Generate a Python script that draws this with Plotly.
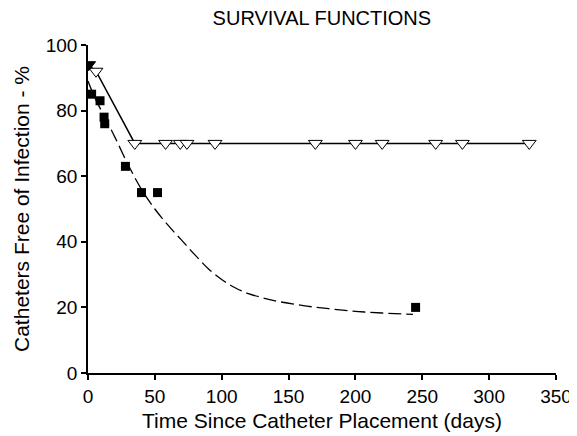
import plotly.graph_objects as go

# Open triangles (Kaplan-Meier, group 1)
tri_days = [6, 35, 58, 69, 74, 95, 170, 200, 220, 260, 280, 330]
tri_vals = [92, 70, 70, 70, 70, 70, 70, 70, 70, 70, 70, 70]

# Step line through triangles
line_days = [0, 6, 35, 330]
line_vals = [94, 92, 70, 70]

# Filled triangle at start
start_day = [0.5]
start_val = [94]

# Filled squares (group 2)
sq_days = [2.7, 9, 12, 12.5, 28, 40, 52, 245]
sq_vals = [85, 83, 78, 76, 63, 55, 55, 20]

# Dashed fitted curve
curve_days = [0, 5, 10, 15, 20, 30, 40, 50, 60, 70, 80, 90, 100, 110, 120, 130, 140, 160, 180, 200, 220, 243]
curve_vals = [89, 84, 80, 76, 72, 63.5, 56, 50, 45, 40.5, 36, 31.8, 28.5, 26, 24.2, 23, 22, 20.6, 19.6, 18.8, 18.3, 17.9]

fig = go.Figure()
fig.add_trace(go.Scatter(x=curve_days, y=curve_vals, mode="lines",
                         line=dict(color="black", width=1.3, dash="13px,5px"),
                         line_shape="spline", hoverinfo="skip"))
fig.add_trace(go.Scatter(x=line_days, y=line_vals, mode="lines",
                         line=dict(color="black", width=1.5)))
fig.add_trace(go.Scatter(x=tri_days, y=tri_vals, mode="markers",
                         marker=dict(symbol="triangle-down", size=12, color="white",
                                     line=dict(color="black", width=1))))
fig.add_trace(go.Scatter(x=start_day, y=start_val, mode="markers",
                         marker=dict(symbol="triangle-down", size=12, color="black",
                                     line=dict(color="black", width=1))))
fig.add_trace(go.Scatter(x=sq_days, y=sq_vals, mode="markers",
                         marker=dict(symbol="square", size=9, color="black",
                                     line=dict(color="black", width=0))))

font = "Liberation Sans, Arial, sans-serif"
fig.update_layout(
    width=577, height=436,
    margin=dict(l=80, r=29, t=37, b=71),
    paper_bgcolor="white", plot_bgcolor="white",
    showlegend=False,
    font=dict(family=font, color="black", size=19),
    title=dict(text="SURVIVAL FUNCTIONS", x=0.544, xanchor="center", y=0.977, yanchor="middle",
               font=dict(size=20, family=font, color="black")),
    xaxis=dict(range=[0, 350], tickvals=[0, 50, 100, 150, 200, 250, 300, 350],
               showline=True, linecolor="black", linewidth=1.5, showgrid=False, zeroline=False,
               ticks="outside", ticklen=5, tickcolor="black", tickwidth=1.5,
               tickfont=dict(size=19), automargin=False,
               title=dict(text="Time Since Catheter Placement (days)", font=dict(size=21), standoff=8)),
    yaxis=dict(range=[0, 100], tickvals=[0, 20, 40, 60, 80, 100],
               showline=True, linecolor="black", linewidth=1.5, showgrid=False, zeroline=False,
               ticks="outside", ticklen=5, tickcolor="black", tickwidth=1.5,
               tickfont=dict(size=19), automargin=False,
               title=dict(text="Catheters Free of Infection - %", font=dict(size=21), standoff=10)),
)
fig.write_html("out.html")
